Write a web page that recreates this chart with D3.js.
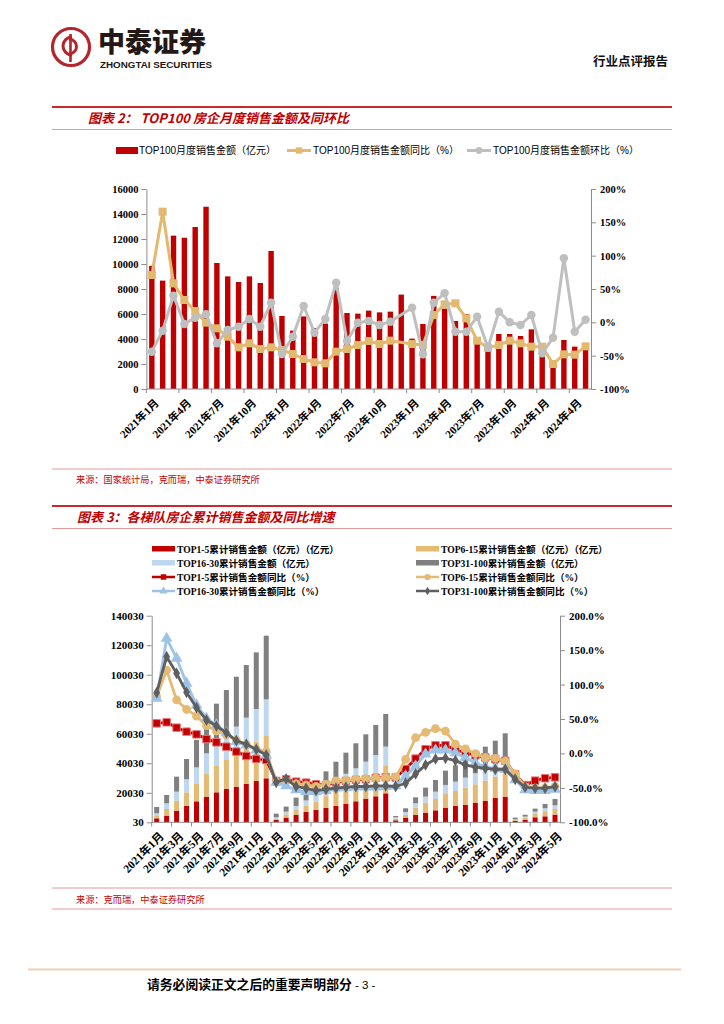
<!DOCTYPE html>
<html><head><meta charset="utf-8">
<script src="https://cdn.jsdelivr.net/npm/d3@7"></script>
<style>body{margin:0;background:#fff}svg{display:block}</style>
</head><body>
<svg id="c" width="724" height="1024"></svg>
<script>
// ---------------- DATA ----------------
const months = ["2021年1月","2021年2月","2021年3月","2021年4月","2021年5月","2021年6月","2021年7月","2021年8月","2021年9月","2021年10月","2021年11月","2021年12月",
"2022年1月","2022年2月","2022年3月","2022年4月","2022年5月","2022年6月","2022年7月","2022年8月","2022年9月","2022年10月","2022年11月","2022年12月",
"2023年1月","2023年2月","2023年3月","2023年4月","2023年5月","2023年6月","2023年7月","2023年8月","2023年9月","2023年10月","2023年11月","2023年12月",
"2024年1月","2024年2月","2024年3月","2024年4月","2024年5月"];

// Chart 1: TOP100 monthly sales (亿元), YoY %, MoM %
const top100Sales = [9850,8670,12270,12100,12960,14580,10080,9010,8560,9010,8480,11040,
 5840,4670,5810,4880,5230,8100,6080,6030,6270,6130,6190,7550,
 4030,5200,7450,6430,5440,6000,3650,3700,4400,4400,4240,4770,
 2800,1800,3920,3390,3200];
const top100YoY = [71,166,58.5,33.5,17,-0.5,-9,-21.5,-37.5,-31.5,-40,-37.5,
 -41.5,-47.5,-55,-60,-61.5,-44,-40,-34,-28,-32.5,-27.5,null,
 -32.5,-34,11,27,28.5,6,-27.5,-38,-34,-27.5,-31.5,-36.5,
 -36.5,-62.5,-48,-48.5,-36];
const top100MoM = [-44,-12.5,40,-2.5,7,12,-31.5,-11.5,-6.5,5,-6.5,29.5,
 -47.5,-21.5,24.5,-15.5,5,59.5,-28,-0.5,2,-4,1,null,
 22,-48,29.5,43.5,-14,-14,8.5,-38,16,0,-4,11,
 -46.5,-23,96,-14,4];
const axis1Left = [0,2000,4000,6000,8000,10000,12000,14000,16000];
const axis1Right = [-100,-50,0,50,100,150,200];

// Chart 2: cumulative sales by tier (亿元) and YoY %
const tier1_5 = [2710,4520,7900,11060,14230,17390,20320,22580,24160,25970,28000,29810,
 1580,3160,4970,7000,8500,9700,11060,12650,14230,16030,17610,19650,
 1360,3160,4970,6550,8130,9940,11060,11740,13320,14450,16480,17390,
 900,1810,3390,4060,5190];
const tier6_15 = [1580,4520,6770,9260,12190,15800,17840,19650,22580,25740,26650,28680,
 900,2260,3390,4200,5400,8000,10300,11800,13300,14700,16200,18520,
 1130,2030,4970,6770,7680,9710,10160,11740,12420,13770,14450,15810,
 680,1360,2260,3400,3840];
const tier16_30 = [1810,3840,6100,8810,10840,13550,14230,17390,18060,19190,22130,24840,
 900,1810,2710,3600,4500,6100,7300,8400,9060,10360,11800,13100,
 900,1810,2940,4070,4970,5650,6320,6800,7450,7900,8400,8900,
 450,680,1580,2100,2480];
const tier31_100 = [4290,5650,10160,13770,18520,22580,28000,30030,33870,35680,38390,43130,
 2480,3390,5650,6400,8030,10730,12430,14350,16940,18520,20320,22130,
 900,2480,4070,6100,7900,9710,11060,11620,13100,15130,15990,18200,
 1130,1260,2030,2860,4290];
const yoy1_5 = [43.7,45.2,37.4,31.6,27.7,20.9,16.1,9.8,2.6,-3.7,-8,-9.5,
 -40,-37.6,-41,-42.4,-44.8,-45.8,-42.3,-40,-38.4,-37.5,-35.5,-34.6,
 -35,-22.5,-7.5,6.2,11.8,11.8,5.5,1.2,-2.7,-5.8,-8.2,-10.7,
 -30,-46,-39.5,-36,-34.7];
const yoy6_15 = [82.4,121,77.6,64,54.3,40.3,32.6,26.8,19.5,13.2,6.4,2.6,
 -41,-39.5,-44,-45.8,-48,-44.8,-40,-39.4,-37.5,-36.5,-36,-35,
 -34,-8.7,22.8,30.7,36,32.4,13.5,6.5,-0.3,-6,-7,-11,
 -29.7,-48.1,-50.5,-50.5,-48.1];
const yoy16_30 = [80,167,138,101.8,70.3,51,41.3,30,17,12.2,5,-2.3,
 -42,-47,-53,-55.5,-55.5,-54,-50.5,-49.6,-49,-49,-49,-48,
 -47,-33,-18.5,-1,5,5,0.7,-6,-14,-19.5,-22,-23,
 -38.4,-53,-53.9,-53.9,-52];
const yoy31_100 = [88.2,140.5,116.3,88.7,66.4,48.5,39.8,30,18.5,13.2,5.9,-2.3,
 -42,-37,-48,-50.7,-54,-52,-50.5,-49,-48,-48,-47,-47,
 -48,-43.3,-29.7,-16.7,-8,-7,-10.4,-16.7,-20,-21.5,-23,-23,
 -37.5,-49,-50.5,-50.5,-48.1];
const axis2Left = [30,20030,40030,60030,80030,100030,120030,140030];
const axis2Right = [-100,-50,0,50,100,150,200];

// ---------------- DRAW ----------------
const svg = d3.select("#c");
const SERIF = "'Liberation Serif','Times New Roman','Noto Sans CJK SC',serif";
const SANS = "'Liberation Sans',Arial,'Noto Sans CJK SC',sans-serif";
const CJK = "'Noto Sans CJK SC','Noto Sans CJK TC',sans-serif";
const RED = "#C00000";

// Header
const logo = svg.append("g");
logo.append("circle").attr("cx",71).attr("cy",47).attr("r",18.5).attr("fill","none").attr("stroke","#B3262C").attr("stroke-width",3.2);
logo.append("path").attr("d","M72,37 A8,8 0 1 0 72,55").attr("fill","none").attr("stroke","#B3262C").attr("stroke-width",3);
logo.append("path").attr("d","M69,39 A7.5,7.5 0 1 1 69,54").attr("fill","none").attr("stroke","#B3262C").attr("stroke-width",3);
logo.append("line").attr("x1",70.5).attr("x2",70.5).attr("y1",34).attr("y2",62).attr("stroke","#B3262C").attr("stroke-width",2.6);
svg.append("text").attr("x",98).attr("y",51.5).attr("font-family",CJK).attr("font-weight",900).attr("font-size",27).attr("fill","#231815").text("中泰证券");
svg.append("text").attr("x",100).attr("y",68).attr("font-family",SANS).attr("font-weight","bold").attr("font-size",8.5).attr("fill","#231815")
  .attr("textLength",112).attr("lengthAdjust","spacingAndGlyphs").text("ZHONGTAI SECURITIES");
svg.append("text").attr("x",668).attr("y",66).attr("text-anchor","end").attr("font-family",CJK).attr("font-weight","bold").attr("font-size",12.5).attr("fill","#111").text("行业点评报告");

function titleBlock(yTop, x, label){
  svg.append("line").attr("x1",52).attr("x2",672).attr("y1",yTop).attr("y2",yTop).attr("stroke","#C8282E").attr("stroke-width",2);
  svg.append("text").attr("x",x).attr("y",yTop+16).attr("font-family",CJK).attr("font-weight","bold").attr("font-style","italic")
    .attr("font-size",13).attr("fill",RED).text(label);
  svg.append("line").attr("x1",52).attr("x2",672).attr("y1",yTop+22.5).attr("y2",yTop+22.5).attr("stroke","#E59A9A").attr("stroke-width",1);
}
titleBlock(107, 88, "图表 2：  TOP100 房企月度销售金额及同环比");
titleBlock(506, 77, "图表 3：各梯队房企累计销售金额及同比增速");

// ---------- Chart 1 ----------
const x1 = d3.scaleBand().domain(months).range([146.4, 591]);
const y1 = d3.scaleLinear().domain([0,16000]).range([389,189]);
const y1r = d3.scaleLinear().domain([-100,200]).range([389,189]);
const bw1 = x1.bandwidth();
const c1 = svg.append("g");

function styleAxis(g, fs){
  g.attr("font-family",SERIF).attr("font-size",fs).attr("font-weight","bold");
  g.selectAll("path,line").attr("stroke","#8c8c8c");
  g.selectAll("text").attr("fill","#000");
}
const a1L = c1.append("g").attr("transform","translate(146.4,0)")
  .call(d3.axisLeft(y1).tickValues(axis1Left).tickSize(5).tickSizeOuter(0).tickPadding(3).tickFormat(d=>d));
styleAxis(a1L,10.5);
const a1R = c1.append("g").attr("transform","translate(591,0)")
  .call(d3.axisRight(y1r).tickValues(axis1Right).tickSize(5).tickSizeOuter(0).tickPadding(4).tickFormat(d=>d+"%"));
styleAxis(a1R,10.5);

// bars
c1.append("g").selectAll("rect").data(top100Sales).join("rect")
  .attr("x",(d,i)=>x1(months[i])+bw1/2-2.7).attr("width",5.4)
  .attr("y",d=>y1(d)).attr("height",d=>y1(0)-y1(d)).attr("fill",RED);

// bottom axis
c1.append("line").attr("x1",146.4).attr("x2",591).attr("y1",389).attr("y2",389).attr("stroke","#8c8c8c");
const t1 = months.filter((m,i)=>i%3===0);
c1.append("g").selectAll("line").data(t1).join("line")
  .attr("x1",d=>x1(d)).attr("x2",d=>x1(d)).attr("y1",389).attr("y2",393).attr("stroke","#8c8c8c");
c1.append("g").selectAll("text").data(t1).join("text")
  .attr("transform",d=>`translate(${x1(d)+bw1/2+5},401) rotate(-45)`)
  .attr("text-anchor","end").attr("dy","0.35em")
  .attr("font-family",SERIF).attr("font-weight","bold").attr("font-size",11).text(d=>d);

// lines
function lineSeries(g, xs, ys, values, color, sym, size, lw, stroke){
  const pts = values.map((v,i)=>({m:months[i],v})).filter(d=>d.v!==null);
  const ln = d3.line().x(d=>xs(d.m)+xs.bandwidth()/2).y(d=>ys(d.v));
  g.append("path").datum(pts).attr("d",ln).attr("fill","none").attr("stroke",color).attr("stroke-width",lw).attr("stroke-linejoin","round");
  g.append("g").selectAll("path").data(pts).join("path")
    .attr("transform",d=>`translate(${xs(d.m)+xs.bandwidth()/2},${ys(d.v)})`)
    .attr("d",d3.symbol().type(sym).size(size)).attr("fill",color)
    .attr("stroke",stroke||"none").attr("stroke-width",stroke?1:0);
}
lineSeries(c1, x1, y1r, top100YoY, "#E2B96F", d3.symbolSquare, 64, 3);
lineSeries(c1, x1, y1r, top100MoM, "#BFBFBF", d3.symbolCircle, 56, 3);

// legend 1
const lg1 = svg.append("g").attr("font-family",SANS).attr("font-size",10).attr("fill","#000");
lg1.append("rect").attr("x",116).attr("y",147).attr("width",22).attr("height",7).attr("fill",RED);
lg1.append("text").attr("x",139).attr("y",154).text("TOP100月度销售金额（亿元）");
lg1.append("line").attr("x1",287).attr("x2",311).attr("y1",150.5).attr("y2",150.5).attr("stroke","#E2B96F").attr("stroke-width",3);
lg1.append("path").attr("transform","translate(299,150.5)").attr("d",d3.symbol().type(d3.symbolSquare).size(40)).attr("fill","#E2B96F");
lg1.append("text").attr("x",313).attr("y",154).text("TOP100月度销售金额同比（%）");
lg1.append("line").attr("x1",467).attr("x2",491).attr("y1",150.5).attr("y2",150.5).attr("stroke","#BFBFBF").attr("stroke-width",3);
lg1.append("path").attr("transform","translate(479,150.5)").attr("d",d3.symbol().type(d3.symbolCircle).size(36)).attr("fill","#BFBFBF");
lg1.append("text").attr("x",493).attr("y",154).text("TOP100月度销售金额环比（%）");

// source 1
svg.append("line").attr("x1",52).attr("x2",672).attr("y1",469).attr("y2",469).attr("stroke","#E59A9A").attr("stroke-width",1);
svg.append("text").attr("x",76).attr("y",483).attr("font-family",CJK).attr("font-size",9.2).attr("fill",RED).text("来源：国家统计局，克而瑞，中泰证券研究所");

// ---------- Chart 2 ----------
const x2 = d3.scaleBand().domain(months).range([151.7, 560]);
const y2 = d3.scaleLinear().domain([30,140030]).range([822.3,615.7]);
const y2r = d3.scaleLinear().domain([-100,200]).range([822.3,615.7]);
const bw2 = x2.bandwidth();
const c2 = svg.append("g");
const a2L = c2.append("g").attr("transform","translate(151.7,0)")
  .call(d3.axisLeft(y2).tickValues(axis2Left).tickSize(5).tickSizeOuter(0).tickPadding(3).tickFormat(d=>d));
styleAxis(a2L,11);
const a2R = c2.append("g").attr("transform","translate(560,0)")
  .call(d3.axisRight(y2r).tickValues(axis2Right).tickSize(5).tickSizeOuter(0).tickPadding(4).tickFormat(d=>d.toFixed(1)+"%"));
styleAxis(a2R,11);

const rows = months.map((m,i)=>({m, a:tier1_5[i], b:tier6_15[i], c:tier16_30[i], d:tier31_100[i]}));
const stack = d3.stack().keys(["a","b","c","d"])(rows);
const barColors = {a:RED, b:"#E5BA73", c:"#BDD7EE", d:"#808080"};
c2.append("g").selectAll("g").data(stack).join("g").attr("fill",s=>barColors[s.key])
  .selectAll("rect").data(s=>s).join("rect")
  .attr("x",d=>x2(d.data.m)+bw2/2-2.5).attr("width",5)
  .attr("y",d=>y2(30+d[1])).attr("height",d=>y2(30+d[0])-y2(30+d[1]));

c2.append("line").attr("x1",151.7).attr("x2",560).attr("y1",822.3).attr("y2",822.3).attr("stroke","#8c8c8c");
const t2 = months.filter((m,i)=>i%2===0);
c2.append("g").selectAll("line").data(t2).join("line")
  .attr("x1",d=>x2(d)).attr("x2",d=>x2(d)).attr("y1",822.3).attr("y2",826.5).attr("stroke","#8c8c8c");
c2.append("g").selectAll("text").data(t2).join("text")
  .attr("transform",d=>`translate(${x2(d)+bw2/2+5},834) rotate(-45)`)
  .attr("text-anchor","end").attr("dy","0.35em")
  .attr("font-family",SERIF).attr("font-weight","bold").attr("font-size",11.5).text(d=>d);

lineSeries(c2, x2, y2r, yoy1_5, RED, d3.symbolSquare, 56, 2.8, "#E8787A");
lineSeries(c2, x2, y2r, yoy6_15, "#E5BA73", d3.symbolCircle, 60, 2.8);
lineSeries(c2, x2, y2r, yoy16_30, "#9DC3E6", d3.symbolTriangle, 60, 2.8);
lineSeries(c2, x2, y2r, yoy31_100, "#5F5F5F", d3.symbolDiamond, 40, 2.8);

// legend 2
const lg2 = svg.append("g").attr("font-family",SERIF).attr("font-weight","bold").attr("font-size",9.6).attr("fill","#000");
const leg2 = [
  {x:152,y:549,t:"rect",c:RED,l:"TOP1-5累计销售金额（亿元）（亿元）"},
  {x:416,y:549,t:"rect",c:"#E5BA73",l:"TOP6-15累计销售金额（亿元）（亿元）"},
  {x:152,y:563,t:"rect",c:"#BDD7EE",l:"TOP16-30累计销售金额（亿元）"},
  {x:416,y:563,t:"rect",c:"#808080",l:"TOP31-100累计销售金额（亿元）"},
  {x:152,y:577,t:d3.symbolSquare,c:RED,l:"TOP1-5累计销售金额同比（%）",s:30},
  {x:416,y:577,t:d3.symbolCircle,c:"#E5BA73",l:"TOP6-15累计销售金额同比（%）",s:30},
  {x:152,y:591,t:d3.symbolTriangle,c:"#9DC3E6",l:"TOP16-30累计销售金额同比（%）",s:30},
  {x:416,y:591,t:d3.symbolDiamond,c:"#5F5F5F",l:"TOP31-100累计销售金额同比（%）",s:22}
];
leg2.forEach(d=>{
  if(d.t==="rect"){
    lg2.append("rect").attr("x",d.x).attr("y",d.y-3).attr("width",23).attr("height",5.5).attr("fill",d.c);
  } else {
    lg2.append("line").attr("x1",d.x).attr("x2",d.x+23).attr("y1",d.y).attr("y2",d.y).attr("stroke",d.c).attr("stroke-width",2.5);
    lg2.append("path").attr("transform",`translate(${d.x+11.5},${d.y})`).attr("d",d3.symbol().type(d.t).size(d.s)).attr("fill",d.c);
  }
  lg2.append("text").attr("x",d.x+25).attr("y",d.y+3.5).text(d.l);
});

// source 2
svg.append("line").attr("x1",52).attr("x2",672).attr("y1",888).attr("y2",888).attr("stroke","#E59A9A").attr("stroke-width",1);
svg.append("text").attr("x",76).attr("y",903).attr("font-family",CJK).attr("font-size",9.2).attr("fill",RED).text("来源：克而瑞，中泰证券研究所");
svg.append("line").attr("x1",52).attr("x2",672).attr("y1",909).attr("y2",909).attr("stroke","#E59A9A").attr("stroke-width",1);

// footer
svg.append("line").attr("x1",28).attr("x2",681).attr("y1",969.5).attr("y2",969.5).attr("stroke","#EFCFB8").attr("stroke-width",2);
svg.append("text").attr("x",147).attr("y",989).attr("font-family",CJK).attr("font-weight","bold").attr("font-size",12.8).attr("fill","#000").text("请务必阅读正文之后的重要声明部分");
svg.append("text").attr("x",355).attr("y",989).attr("font-family",SANS).attr("font-size",11.5).attr("fill","#000").text("- 3 -");
</script>
</body></html>
